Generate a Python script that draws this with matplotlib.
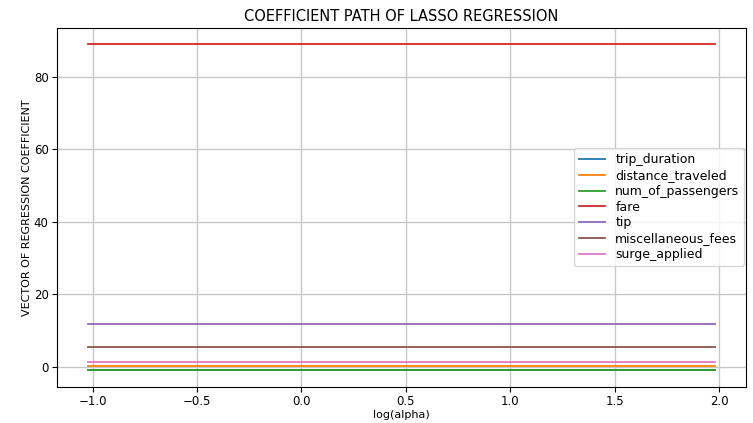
import numpy as np
import matplotlib
matplotlib.use("Agg")
import matplotlib.pyplot as plt

# log10 of the regularisation strengths along the path
log_alpha = [-1.02, -0.5, 0.0, 0.5, 1.0, 1.5, 1.98]

features = ["trip_duration", "distance_traveled", "num_of_passengers",
            "fare", "tip", "miscellaneous_fees", "surge_applied"]

# Lasso coefficient for each feature at every alpha
coef_trip_duration = [-1.0] * 7
coef_distance_traveled = [0.2] * 7
coef_num_of_passengers = [-0.8] * 7
coef_fare = [89.0] * 7
coef_tip = [11.9] * 7
coef_miscellaneous_fees = [5.5] * 7
coef_surge_applied = [1.2] * 7

coefs = [coef_trip_duration, coef_distance_traveled, coef_num_of_passengers,
         coef_fare, coef_tip, coef_miscellaneous_fees, coef_surge_applied]

fig = plt.figure(figsize=(7.53, 4.23), dpi=100)
ax = fig.add_axes([0.0757, 0.0858, 0.9153, 0.8487])

for name, c in zip(features, coefs):
    ax.plot(log_alpha, c, label=name, linewidth=1.3)

ax.grid(True, color="#c8c8c8", linewidth=1.0)
ax.set_axisbelow(True)
ax.set_title("COEFFICIENT PATH OF LASSO REGRESSION", fontsize=10.5, pad=5)
ax.set_xlabel("log(alpha)", fontsize=8, labelpad=1.5)
ax.set_ylabel("VECTOR OF REGRESSION COEFFICIENT", fontsize=8, labelpad=1)
ax.tick_params(labelsize=8.5, pad=2.5)
ax.legend(loc="center right", fontsize=9, labelspacing=0.22,
          borderaxespad=0.15, handlelength=2.1)

fig.savefig("out.png", dpi=100)
